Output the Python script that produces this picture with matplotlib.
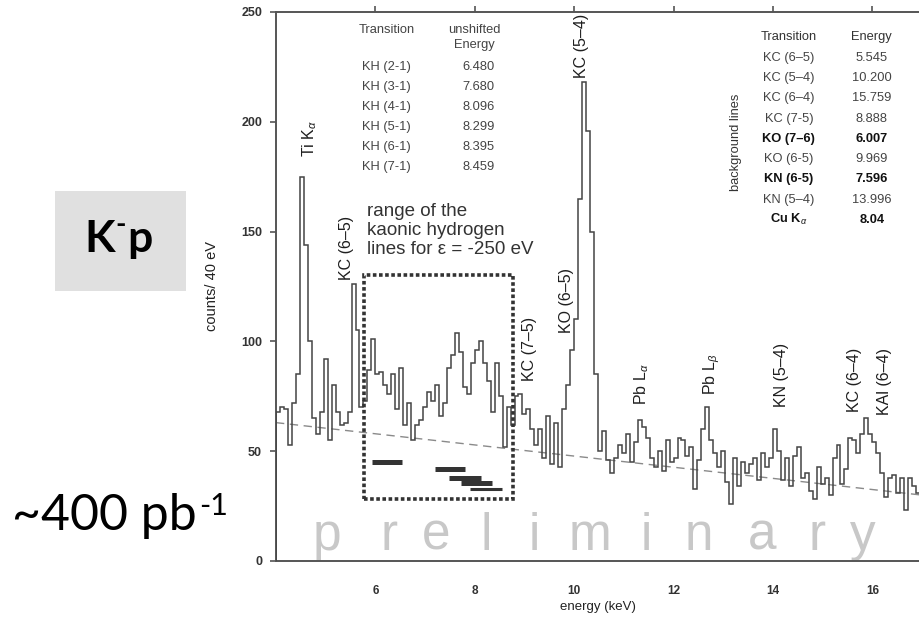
import numpy as np
import matplotlib
matplotlib.use("Agg")
import matplotlib.pyplot as plt
from matplotlib.patches import Rectangle

plt.rcParams['font.family'] = ['Liberation Sans', 'DejaVu Sans']
plt.rcParams['mathtext.fontset'] = 'custom'
plt.rcParams['mathtext.rm'] = 'Liberation Sans'
plt.rcParams['mathtext.it'] = 'Liberation Sans:italic'
plt.rcParams['mathtext.bf'] = 'Liberation Sans:bold'

# spectrum, counts per bin, bins of 0.08 keV starting at 4.0 keV
e_start = 4.0
bin_width = 0.08
counts = [
    68, 70, 69, 53, 72, 85, 175, 144, 100, 65,
    58, 68, 92, 55, 80, 68, 62, 63, 68, 126,
    105, 70, 73, 87, 101, 85, 86, 80, 76, 85,
    69, 88, 62, 72, 55, 62, 64, 70, 77, 73,
    80, 66, 72, 88, 94, 104, 95, 79, 76, 90,
    96, 100, 90, 82, 68, 90, 75, 52, 70, 62,
    75, 76, 67, 69, 60, 53, 60, 47, 66, 44,
    63, 43, 69, 80, 96, 110, 165, 218, 196, 150,
    85, 50, 59, 46, 40, 47, 53, 49, 58, 45,
    54, 64, 61, 56, 47, 43, 50, 41, 55, 45,
    47, 56, 55, 48, 52, 33, 46, 60, 70, 55,
    49, 43, 50, 36, 26, 47, 34, 45, 40, 44,
    47, 37, 49, 43, 47, 60, 50, 37, 47, 34,
    48, 52, 38, 40, 32, 28, 43, 35, 38, 30,
    47, 53, 35, 42, 56, 55, 49, 58, 65, 58,
    54, 49, 40, 29, 38, 39, 31, 38, 23, 38,
    34, 31,
]

# fitted background (dashed)
bg_energy = [4.0, 17.0]
bg_counts = [63, 30]

# kaonic hydrogen ranges (thick bars)
bar_lo = [5.94, 7.19, 7.49, 7.73, 7.91]
bar_hi = [6.54, 7.81, 8.13, 8.35, 8.54]
bar_y = [45, 42, 38, 35.5, 33]
bar_lw = [3.6, 3.6, 3.6, 3.6, 2.2]

# range box
box_x = [5.78, 8.76]
box_y = [28, 130]

# peak labels
peak_labels = ['Ti K$_{\\alpha}$', 'KC (6\u20135)', 'KC (5\u20134)', 'KO (6\u20135)', 'KC (7\u20135)',
               'Pb L$_{\\alpha}$', 'Pb L$_{\\beta}$', 'KN (5\u20134)', 'KC (6\u20134)', 'KAl (6\u20134)']
peak_x = [4.68, 5.41, 10.14, 9.84, 9.11, 11.36, 12.77, 14.18, 15.65, 16.25]
peak_y = [184, 128, 220, 104, 82, 71, 75.5, 70, 68, 66.5]

# left table
kh_trans = ['KH (2-1)', 'KH (3-1)', 'KH (4-1)', 'KH (5-1)', 'KH (6-1)', 'KH (7-1)']
kh_energy = ['6.480', '7.680', '8.096', '8.299', '8.395', '8.459']

# right table
bg_trans = ['KC (6\u20135)', 'KC (5\u20134)', 'KC (6\u20134)', 'KC (7-5)', 'KO (7\u20136)',
            'KO (6-5)', 'KN (6-5)', 'KN (5\u20134)', 'Cu K$_{\\alpha}$']
bg_energy_tab = ['5.545', '10.200', '15.759', '8.888', '6.007', '9.969', '7.596', '13.996', '8.04']
bg_bold = [False, False, False, False, True, False, True, False, True]

watermark = list('preliminary')
watermark_x = [5.03, 6.28, 7.23, 8.23, 9.20, 10.31, 11.46, 12.51, 13.78, 14.89, 15.81]

fig = plt.figure(figsize=(9.2, 6.17), dpi=100)
ax = fig.add_axes([0.3, 0.0908, 0.7, 0.8898])

edges = e_start + bin_width * np.arange(len(counts) + 1)
ax.stairs(counts, edges, color='#444444', lw=1.1, zorder=3)
ax.plot(bg_energy, bg_counts, color='#8a8a8a', lw=1.0, ls=(0, (6, 4)), zorder=2)

for lo, hi, y, lw in zip(bar_lo, bar_hi, bar_y, bar_lw):
    ax.plot([lo, hi], [y, y], color='#333333', lw=lw, solid_capstyle='butt', zorder=3)

ax.add_patch(Rectangle((box_x[0], box_y[0]), box_x[1] - box_x[0], box_y[1] - box_y[0],
                       fill=False, edgecolor='#333333', lw=2.6, ls=(0, (1.0, 0.7)), zorder=4))

for lab, x, y in zip(peak_labels, peak_x, peak_y):
    ax.text(x, y, lab, rotation=90, ha='center', va='bottom', fontsize=11.5, color='#1e1e1e')

ax.text(5.83, 150.5, 'range of the\nkaonic hydrogen\nlines for \u03b5 = -250 eV', ha='left', va='center',
        fontsize=13.5, color='#333333', linespacing=1.17)

# left table
tc = '#444444'
fs = 9.3
ax.text(6.23, 242, 'Transition', ha='center', va='center', fontsize=fs, color=tc)
ax.text(8.0, 242, 'unshifted', ha='center', va='center', fontsize=fs, color=tc)
ax.text(8.0, 235, 'Energy', ha='center', va='center', fontsize=fs, color=tc)
for k, (t, e) in enumerate(zip(kh_trans, kh_energy)):
    y = 225 - 9.1 * k
    ax.text(6.23, y, t, ha='center', va='center', fontsize=fs, color=tc)
    ax.text(8.08, y, e, ha='center', va='center', fontsize=fs, color=tc)

# right table
ax.text(14.32, 238.6, 'Transition', ha='center', va='center', fontsize=fs, color='#333333')
ax.text(15.99, 238.6, 'Energy', ha='center', va='center', fontsize=fs, color='#333333')
for k, (t, e, b) in enumerate(zip(bg_trans, bg_energy_tab, bg_bold)):
    y = 229 - 9.2 * k
    w = 'bold' if b else 'normal'
    c = '#111111' if b else tc
    ax.text(14.32, y, t, ha='center', va='center', fontsize=fs, color=c, fontweight=w)
    ax.text(15.99, y, e, ha='center', va='center', fontsize=fs, color=c, fontweight=w)
ax.text(13.26, 190.8, 'background lines', rotation=90, ha='center', va='center', fontsize=fs, color='#333333')

for ch, x in zip(watermark, watermark_x):
    ax.text(x, 5, ch, ha='center', va='baseline', fontsize=37, color='#c8c8c8', zorder=1)

ax.set_xlim(4.0, 16.96)
ax.set_ylim(0, 250)
ax.set_xticks([6, 8, 10, 12, 14, 16])
ax.set_yticks([0, 50, 100, 150, 200, 250])
ax.spines['right'].set_visible(False)
for s in ['left', 'bottom', 'top']:
    ax.spines[s].set_color('#555555')
    ax.spines[s].set_linewidth(1.4)
ax.tick_params(axis='x', which='both', top=True, bottom=False, labeltop=False, direction='out',
               length=4.5, width=1.2, color='#555555', pad=13, labelsize=8.5, labelcolor='#333333')
ax.tick_params(axis='y', direction='out', length=4, width=1.2, color='#555555', pad=6,
               labelsize=9, labelcolor='#333333')
for lab in ax.get_xticklabels() + ax.get_yticklabels():
    lab.set_fontweight('bold')

ax.set_xlabel('energy (keV)', fontsize=9.5, color='#222222', labelpad=3)
ax.set_ylabel('counts/ 40 eV', fontsize=10.5, color='#222222', labelpad=16)

# side annotations
side_font = ['Lato', 'DejaVu Sans']
W, H = 920, 617
fig.patches.append(Rectangle((0.060, 0.528), 0.142, 0.162, transform=fig.transFigure,
                             facecolor='#e0e0e0', edgecolor='none'))
renderer = fig.canvas.get_renderer()


def right_edge(t):
    return t.get_window_extent(renderer).x1 / W


tk = fig.text(84 / W, 1 - 252 / H, 'K', ha='left', va='baseline', fontsize=32,
              fontweight='bold', family=side_font, color='black')
td = fig.text(right_edge(tk) + 1 / W, 1 - 233 / H, '-', ha='left', va='baseline', fontsize=20,
              fontweight='bold', family=side_font, color='black')
fig.text(right_edge(td) + 1 / W, 1 - 252 / H, 'p', ha='left', va='baseline', fontsize=32,
         fontweight='bold', family=side_font, color='black')
tm = fig.text(12 / W, 1 - 530 / H, '~400 pb', ha='left', va='baseline', fontsize=36,
              family=side_font, color='black')
fig.text(right_edge(tm) + 2 / W, 1 - 515 / H, '-1', ha='left', va='baseline', fontsize=22,
         family=side_font, color='black')

fig.savefig('out.png', dpi=100)
